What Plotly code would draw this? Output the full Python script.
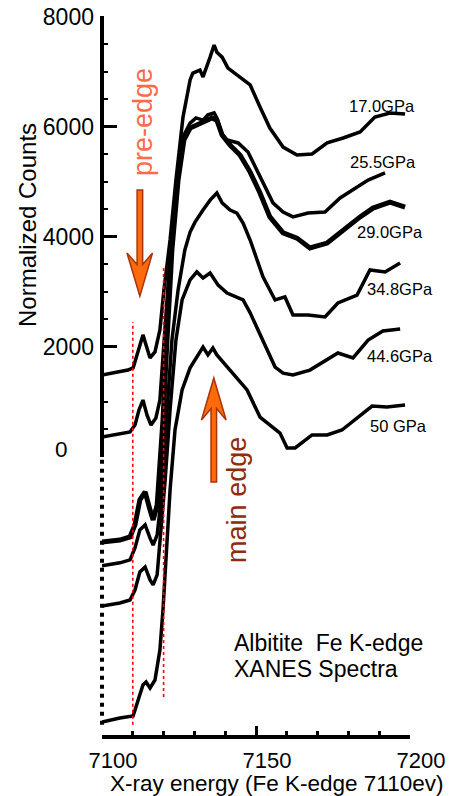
import plotly.graph_objects as go

# ---------------- data ----------------
pressures = ["17.0GPa", "25.5GPa", "29.0GPa", "34.8GPa", "44.6GPa", "50 GPa"]

energy_17 = [7100, 7104.2, 7108.4, 7110.1, 7111.7, 7113.3, 7114.3, 7115.6, 7117.2, 7118.8,
             7120.1, 7122.1, 7124.0, 7126.3, 7128.6, 7129.5, 7131.8, 7132.8, 7135.1, 7136.4,
             7137.3, 7139.0, 7140.9, 7144.8, 7148.1, 7151.3, 7154.5, 7158.8, 7163.3, 7168.2,
             7173.1, 7178.3, 7183.8, 7188.6, 7193.5, 7198.4]
counts_17 = [1490, 1530, 1580, 1620, 1945, 2220, 2035, 1800, 1910, 2310,
             3035, 3945, 5035, 6180, 6855, 6980, 7035, 6910, 7270, 7490,
             7360, 7270, 7070, 6910, 6765, 6365, 5980, 5635, 5490, 5510,
             5710, 5800, 5910, 6180, 6255, 6235]

energy_25 = [7100, 7105.8, 7109.1, 7110.7, 7112.0, 7113.3, 7114.6, 7115.9, 7117.5, 7118.8,
             7119.8, 7121.1, 7122.7, 7124.7, 7126.6, 7128.6, 7130.5, 7132.8, 7134.4, 7136.4,
             7137.3, 7139.0, 7140.6, 7144.2, 7147.4, 7150.3, 7152.9, 7155.5, 7158.8, 7162.0,
             7166.9, 7172.4, 7177.3, 7182.1, 7186.4, 7191.9]
counts_25 = [365, 420, 455, 580, 855, 1035, 765, 580, 710, 1035,
             1765, 2855, 4125, 5220, 5855, 6070, 6165, 6125, 6220, 6255,
             6165, 5855, 5765, 5710, 5545, 5220, 4910, 4620, 4455, 4365,
             4435, 4455, 4710, 4890, 5035, 5165]

energy_29 = [7100, 7105.8, 7109.1, 7110.7, 7112.3, 7114.0, 7115.6, 7116.6, 7117.9, 7118.8,
             7119.8, 7121.1, 7122.7, 7124.7, 7126.6, 7128.6, 7130.8, 7133.4, 7135.7, 7137.3,
             7139.0, 7141.6, 7144.8, 7148.1, 7151.3, 7154.5, 7158.8, 7163.3, 7167.5, 7173.1,
             7178.3, 7183.8, 7188.0, 7193.5, 7198.4]
counts_29 = [-1545, -1510, -1455, -1235, -780, -635, -965, -1145, -875, -235,
             675, 2125, 3765, 5035, 5765, 5980, 6035, 6090, 6165, 6125,
             5855, 5670, 5490, 5180, 4800, 4365, 4075, 3980, 3800, 3890,
             4125, 4365, 4525, 4635, 4545]

energy_34 = [7100, 7105.8, 7109.1, 7110.7, 7112.3, 7114.0, 7115.6, 7116.6, 7117.9, 7118.8,
             7119.8, 7121.1, 7122.7, 7124.7, 7126.9, 7128.6, 7130.2, 7132.8, 7135.1, 7137.3,
             7139.0, 7141.6, 7143.8, 7145.8, 7148.1, 7152.3, 7156.2, 7159.4, 7162.0, 7166.9,
             7172.4, 7176.6, 7182.8, 7187.0, 7191.9, 7196.8]
counts_34 = [-1980, -1925, -1870, -1655, -1325, -1235, -1475, -1600, -1420, -965,
             -235, 855, 2125, 3035, 3765, 4090, 4270, 4490, 4670, 4800,
             4620, 4490, 4435, 4255, 3945, 3270, 2855, 2910, 2580, 2580,
             2545, 2800, 2945, 3400, 3365, 3525]

energy_44 = [7100, 7105.8, 7109.1, 7110.7, 7112.3, 7114.0, 7115.6, 7116.6, 7117.9, 7118.8,
             7120.5, 7122.1, 7124.0, 7126.0, 7128.6, 7130.8, 7132.8, 7135.1, 7137.7, 7140.6,
             7145.8, 7148.1, 7152.3, 7156.2, 7158.8, 7162.0, 7167.5, 7171.8, 7176.6, 7181.5,
             7186.4, 7191.2, 7196.8]
counts_44 = [-2710, -2655, -2600, -2420, -2090, -2000, -2235, -2325, -2145, -1600,
             -420, 855, 2125, 2855, 3220, 3365, 3255, 3345, 3125, 2980,
             2855, 2620, 2125, 1635, 1525, 1490, 1580, 1725, 1890, 1800,
             2125, 2290, 2325]

energy_50 = [7100, 7105.8, 7110.1, 7111.7, 7113.3, 7114.3, 7115.6, 7117.2, 7118.8, 7119.8,
             7120.8, 7122.1, 7123.7, 7126.0, 7128.6, 7130.8, 7132.8, 7134.4, 7136.0, 7137.3,
             7141.6, 7147.1, 7151.3, 7154.5, 7157.8, 7160.1, 7162.7, 7168.2, 7173.1, 7177.9,
             7182.8, 7187.7, 7192.5, 7198.4]
counts_50 = [-4820, -4745, -4710, -4420, -4145, -4090, -4200, -4055, -3510, -2780,
             -1870, -600, 490, 1220, 1620, 1820, 2000, 1855, 1980, 1855,
             1580, 1220, 725, 580, 435, 165, 165, 400, 400, 490,
             710, 925, 910, 945]

# label anchor points for each spectrum (energy, counts)
label_energy = [7179.5, 7179.9, 7182.1, 7185.4, 7185.4, 7186.4]
label_counts = [6381, 5363, 4091, 3054, 1836, 564]

xtick_vals = [7100, 7150, 7200]
xminor_vals = [7110, 7120, 7130, 7140, 7160, 7170, 7180, 7190]
ytick_vals = [2000, 4000, 6000, 8000]
ytick_text = ["2000", "4000", "6000", "8000"]
yminor_vals = [500, 1000, 1500, 2500, 3000, 3500, 4500, 5000, 5500, 6500, 7000, 7500]

pre_edge_energy = 7110
main_edge_energy = 7120

# ---------------- figure ----------------
FONT = "Liberation Sans, Arial, Helvetica, sans-serif"
Y_RANGE = [-5055, 8018]


def ypaper(v):
    return (v - Y_RANGE[0]) / (Y_RANGE[1] - Y_RANGE[0])


series = [
    (energy_17, counts_17, 3.5),
    (energy_25, counts_25, 3.5),
    (energy_29, counts_29, 5),
    (energy_34, counts_34, 3.5),
    (energy_44, counts_44, 3.5),
    (energy_50, counts_50, 3.5),
]

fig = go.Figure()
for (ex, cy, w), name in zip(series, pressures):
    fig.add_trace(go.Scatter(x=ex, y=cy, mode="lines", name=name,
                             line=dict(color="black", width=w), showlegend=False))

shapes = []
# y axis: solid above zero, dotted below (paper refs so the line is not clipped)
shapes.append(dict(type="line", xref="paper", yref="paper", x0=0, x1=0,
                   y0=ypaper(0), y1=1.0, line=dict(color="black", width=4)))
shapes.append(dict(type="line", xref="paper", yref="paper", x0=0, x1=0,
                   y0=ypaper(-4870), y1=ypaper(0),
                   line=dict(color="black", width=4, dash="4px,5px")))
# red dotted markers
shapes.append(dict(type="line", xref="x", yref="y", x0=pre_edge_energy, x1=pre_edge_energy,
                   y0=-4870, y1=2455, line=dict(color="red", width=1.6, dash="dot")))
shapes.append(dict(type="line", xref="x", yref="y", x0=main_edge_energy, x1=main_edge_energy,
                   y0=-4365, y1=3490, line=dict(color="red", width=1.6, dash="dot")))
# pre-edge arrow (down)
shapes.append(dict(type="path", xref="x", yref="y",
                   path="M 7111.4,4855 L 7113.2,4855 L 7113.2,3500 L 7116.4,3709 "
                        "L 7112.3,2925 L 7108.1,3709 L 7111.4,3500 Z",
                   fillcolor="#ff6a0d", line=dict(color="#a8340a", width=1.5)))
# main-edge arrow (up)
shapes.append(dict(type="path", xref="x", yref="y",
                   path="M 7135.4,-455 L 7137.2,-455 L 7137.2,880 L 7140.3,672 "
                        "L 7136.3,1436 L 7132.3,672 L 7135.4,880 Z",
                   fillcolor="#ff6a0d", line=dict(color="#a8340a", width=1.5)))

annotations = []
for txt, ex, cy in zip(pressures, label_energy, label_counts):
    annotations.append(dict(x=ex, y=cy, xref="x", yref="y", text=txt, showarrow=False,
                            xanchor="left", yanchor="middle",
                            font=dict(family=FONT, size=16.5, color="black")))
annotations += [
    dict(x=-0.13, y=0.3964, xref="paper", yref="paper", text="0", showarrow=False,
         xanchor="center", yanchor="middle", font=dict(family=FONT, size=22.5, color="black")),
    dict(x=-0.2435, y=0.7093, xref="paper", yref="paper", text="Normalized Counts",
         showarrow=False, textangle=-90, xanchor="center", yanchor="middle",
         font=dict(family=FONT, size=24, color="black")),
    dict(x=0.568, y=-0.0668, xref="paper", yref="paper",
         text="X-ray energy (Fe K-edge 7110ev)", showarrow=False,
         xanchor="center", yanchor="middle", font=dict(family=FONT, size=22.5, color="black")),
    dict(x=0.133, y=0.8526, xref="paper", yref="paper", text="pre-edge", showarrow=False,
         textangle=-90, xanchor="center", yanchor="middle",
         font=dict(family=FONT, size=27, color="#ff6a48")),
    dict(x=0.4383, y=0.327, xref="paper", yref="paper", text="main edge", showarrow=False,
         textangle=-90, xanchor="center", yanchor="middle",
         font=dict(family=FONT, size=27, color="#8e2c0c")),
    dict(x=0.422, y=0.1273, xref="paper", yref="paper", text="Albitite&nbsp; Fe K-edge",
         showarrow=False, xanchor="left", yanchor="middle",
         font=dict(family=FONT, size=23, color="black")),
    dict(x=0.422, y=0.0918, xref="paper", yref="paper", text="XANES Spectra",
         showarrow=False, xanchor="left", yanchor="middle",
         font=dict(family=FONT, size=23, color="black")),
]

fig.update_layout(
    template="none",
    width=460, height=796,
    margin=dict(l=102, r=50, t=16, b=61, autoexpand=False),
    paper_bgcolor="white", plot_bgcolor="white",
    shapes=shapes, annotations=annotations,
    xaxis=dict(range=[7100, 7200], showgrid=False, zeroline=False, automargin=False,
               showline=True, linecolor="black", linewidth=4,
               ticks="inside", tickvals=xtick_vals, ticklen=9, tickwidth=3,
               tickcolor="black", ticklabelshift=11, ticklabelstandoff=3,
               tickfont=dict(family=FONT, size=22, color="black"),
               minor=dict(tickmode="array", tickvals=xminor_vals, ticks="inside",
                          ticklen=4, tickwidth=3, tickcolor="black", showgrid=False)),
    yaxis=dict(range=Y_RANGE, showgrid=False, zeroline=False, showline=False,
               automargin=False,
               ticks="inside", tickvals=ytick_vals, ticktext=ytick_text,
               ticklen=15, tickwidth=3, tickcolor="black", ticklabelstandoff=7,
               tickfont=dict(family=FONT, size=23, color="black"),
               minor=dict(tickmode="array", tickvals=yminor_vals, ticks="inside",
                          ticklen=6, tickwidth=2, tickcolor="black", showgrid=False)),
)

fig.write_html("out.html", config={"displayModeBar": False},
               post_script="document.body.style.margin='0';document.body.style.padding='0';")
